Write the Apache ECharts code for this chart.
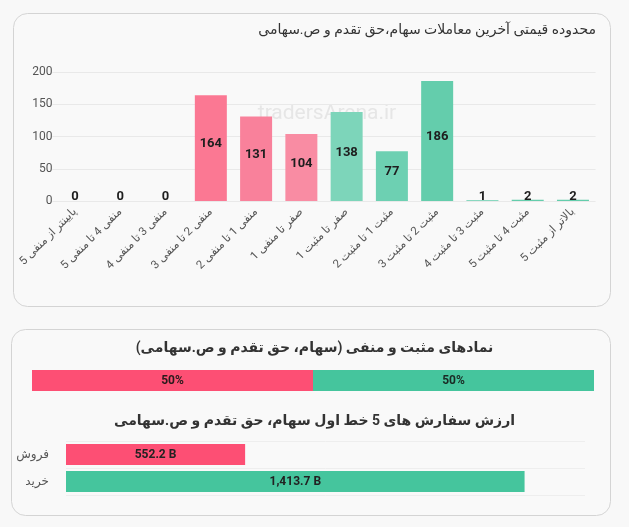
<!DOCTYPE html>
<html>
<head>
<meta charset="utf-8">
<script src="https://cdn.jsdelivr.net/npm/echarts@6/dist/echarts.min.js"></script>
<style>
  html, body { margin: 0; padding: 0; background: #f8f8f8; }
  #chart { width: 629px; height: 527px; }
</style>
</head>
<body>
<div id="chart"></div>
<script>
// price-range distribution of last trades
const rangeCategories = [
  "پایینتر از منفی 5", "منفی 4 تا منفی 5", "منفی 3 تا منفی 4", "منفی 2 تا منفی 3",
  "منفی 1 تا منفی 2", "صفر تا منفی 1", "صفر تا مثبت 1", "مثبت 1 تا مثبت 2",
  "مثبت 2 تا مثبت 3", "مثبت 3 تا مثبت 4", "مثبت 4 تا مثبت 5", "بالاتر از مثبت 5"
];
const rangeCounts = [0, 0, 0, 164, 131, 104, 138, 77, 186, 1, 2, 2];
const yTicks = [0, 50, 100, 150, 200];

// positive / negative share (percent)
const negativeShare = [50];
const positiveShare = [50];

// top-5 order book value (billion)
const orderSides = ["فروش", "خرید"];
const orderValues = [552.2, 1413.7];

const RLM = "\u200F";
const FONT = "Roboto, 'DejaVu Sans', sans-serif";
const RED = "#fd4f74";
const GREEN = "#45c59d";
const barColors = [
  "#fb7a96", "#fb7a96", "#fb7a96", "#fb7893", "#f9819b", "#f98ca3",
  "#7dd5ba", "#6dd0b2", "#64cdac", "#64cdac", "#64cdac", "#64cdac"
];

const chart = echarts.init(document.getElementById("chart"));

const option = {
  animation: false,
  textStyle: { fontFamily: FONT },
  graphic: [
    {
      type: "rect", z: -10, silent: true,
      shape: { x: 13.5, y: 13.5, width: 597, height: 293, r: 14 },
      style: { fill: "#f9f9f9", stroke: "#d4d4d4", lineWidth: 1 }
    },
    {
      type: "rect", z: -10, silent: true,
      shape: { x: 11.5, y: 329.5, width: 599, height: 186, r: 14 },
      style: { fill: "#f9f9f9", stroke: "#d4d4d4", lineWidth: 1 }
    },
    {
      type: "text", z: -5, silent: true,
      x: 327, y: 114,
      style: {
        text: "tradersArena.ir", fontSize: 21, fontFamily: FONT,
        fill: "#e6e6e6", align: "center", verticalAlign: "middle"
      }
    }
  ],
  title: [
    {
      text: RLM + "محدوده قیمتی آخرین معاملات سهام،حق تقدم و ص.سهامی" + RLM,
      right: 33, top: 23, padding: 0,
      textStyle: { fontSize: 14, fontWeight: "normal", color: "#333", fontFamily: FONT }
    },
    {
      text: RLM + "نمادهای مثبت و منفی (سهام، حق تقدم و ص.سهامی)" + RLM,
      left: "center", top: 341, padding: 0,
      textStyle: { fontSize: 14, fontWeight: "bold", color: "#333", fontFamily: FONT }
    },
    {
      text: RLM + "ارزش سفارش های 5 خط اول سهام، حق تقدم و ص.سهامی" + RLM,
      left: "center", top: 414, padding: 0,
      textStyle: { fontSize: 14, fontWeight: "bold", color: "#333", fontFamily: FONT }
    }
  ],
  grid: [
    { left: 52.4, right: 33.4, top: 72, bottom: 326 },
    { left: 32, right: 35, top: 370, height: 21 },
    { left: 66, right: 44, top: 441, height: 54 }
  ],
  xAxis: [
    {
      gridIndex: 0, type: "category", data: rangeCategories,
      axisLine: { show: false }, axisTick: { show: false },
      axisLabel: { rotate: 45, interval: 0, fontSize: 11.5, color: "#555", margin: 9 }
    },
    {
      gridIndex: 1, type: "value", min: 0, max: 100, show: false
    },
    {
      gridIndex: 2, type: "value", min: 0, max: 1600, show: false
    }
  ],
  yAxis: [
    {
      gridIndex: 0, type: "value", min: yTicks[0], max: yTicks[yTicks.length - 1],
      interval: yTicks[1] - yTicks[0],
      axisLine: { show: false }, axisTick: { show: false },
      axisLabel: { fontSize: 12, color: "#555", margin: 0 },
      splitLine: { lineStyle: { color: "#e9e9e9" } }
    },
    {
      gridIndex: 1, type: "category", data: ["share"], show: false
    },
    {
      gridIndex: 2, type: "category", data: orderSides, inverse: true,
      axisLine: { show: false }, axisTick: { show: false },
      axisLabel: { fontSize: 12, color: "#555", margin: 17 },
      splitLine: { show: true, lineStyle: { color: "#eeeeee" } }
    }
  ],
  series: [
    {
      type: "bar", xAxisIndex: 0, yAxisIndex: 0, barWidth: 32,
      data: rangeCounts.map((v, i) => ({ value: v, itemStyle: { color: barColors[i] } })),
      label: {
        show: true, position: "inside", offset: [0, -4],
        fontSize: 13, fontWeight: "bold", color: "#1e1e1e"
      }
    },
    {
      type: "bar", xAxisIndex: 1, yAxisIndex: 1, stack: "share", barWidth: 21,
      data: negativeShare, itemStyle: { color: RED },
      label: {
        show: true, position: "inside", formatter: "{c}%",
        fontSize: 12, fontWeight: "bold", color: "#2a1a1c"
      }
    },
    {
      type: "bar", xAxisIndex: 1, yAxisIndex: 1, stack: "share", barWidth: 21,
      data: positiveShare, itemStyle: { color: GREEN },
      label: {
        show: true, position: "inside", formatter: "{c}%",
        fontSize: 12, fontWeight: "bold", color: "#1a2a24"
      }
    },
    {
      type: "bar", xAxisIndex: 2, yAxisIndex: 2, barWidth: 21,
      data: orderValues.map((v, i) => ({ value: v, itemStyle: { color: i === 0 ? RED : GREEN } })),
      label: {
        show: true, position: "inside",
        formatter: (p) => p.value.toLocaleString("en-US", { minimumFractionDigits: 1, maximumFractionDigits: 1 }) + " B",
        fontSize: 12, fontWeight: "bold", color: "#222"
      }
    }
  ]
};

chart.setOption(option);
</script>
</body>
</html>
